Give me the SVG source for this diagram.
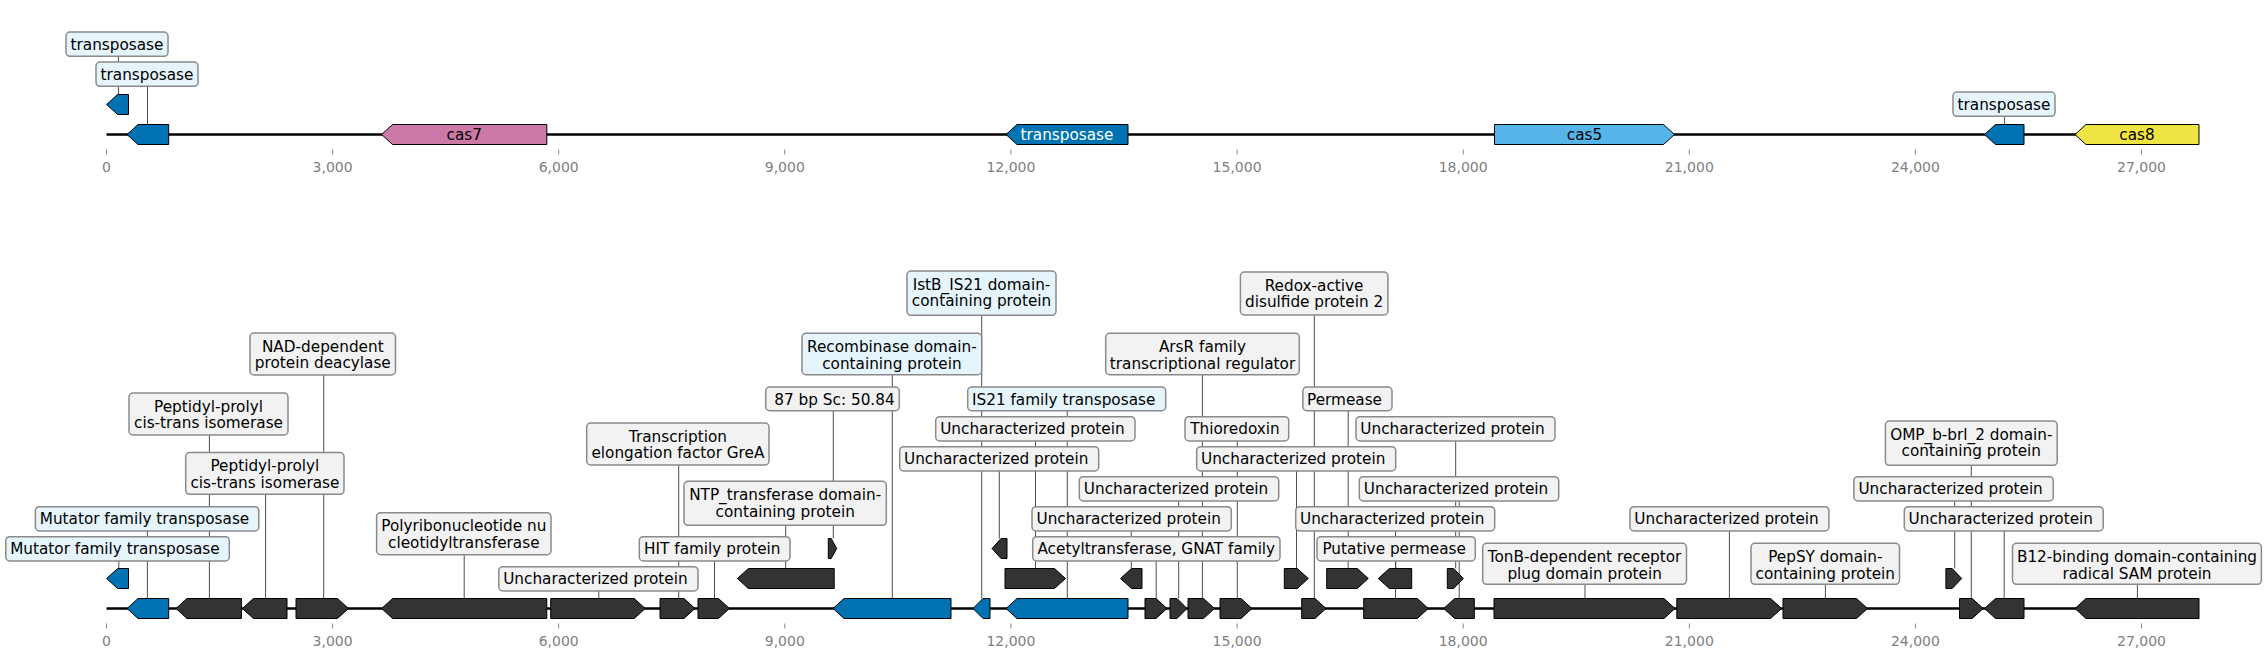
<svg xmlns="http://www.w3.org/2000/svg" width="2267" height="659" viewBox="0 0 2267 659">
<style>
.bg{fill:#ffffff}
.base{stroke:#000;stroke-width:2.5;fill:none}
.tick{stroke:#888;stroke-width:1}
.tl{font-family:"DejaVu Sans","Liberation Sans",sans-serif;font-size:14px;fill:#808080;text-anchor:middle}
.con{stroke:#4d4d4d;stroke-width:1;fill:none}
.g{stroke:#000;stroke-width:1}
.dk{fill:#333333}
.bl{fill:#0072b2}
.lb{fill:#56b4e9}
.pk{fill:#cc79a7}
.ye{fill:#f0e442}
.bx{fill:#f2f2f2;stroke:#8a8a8a;stroke-width:1.5}
.bxb{fill:#e6f5fc;stroke:#8a8a8a;stroke-width:1.5}
.t{font-family:"DejaVu Sans","Liberation Sans",sans-serif;font-size:15.28px;fill:#000;text-anchor:middle}
.tw{font-family:"DejaVu Sans","Liberation Sans",sans-serif;font-size:15.28px;fill:#fff;text-anchor:middle}
</style>
<rect class="bg" x="0" y="0" width="2267" height="659"/>

<g id="axes">
<line class="base" x1="106.5" y1="134.5" x2="2199" y2="134.5"/>
<line class="base" x1="106.5" y1="608.5" x2="2199" y2="608.5"/>
<g id="ticks-top">
<line class="tick" x1="106.5" y1="149.5" x2="106.5" y2="154.5"/>
<line class="tick" x1="332.6" y1="149.5" x2="332.6" y2="154.5"/>
<line class="tick" x1="558.7" y1="149.5" x2="558.7" y2="154.5"/>
<line class="tick" x1="784.8" y1="149.5" x2="784.8" y2="154.5"/>
<line class="tick" x1="1010.9" y1="149.5" x2="1010.9" y2="154.5"/>
<line class="tick" x1="1237.1" y1="149.5" x2="1237.1" y2="154.5"/>
<line class="tick" x1="1463.2" y1="149.5" x2="1463.2" y2="154.5"/>
<line class="tick" x1="1689.3" y1="149.5" x2="1689.3" y2="154.5"/>
<line class="tick" x1="1915.4" y1="149.5" x2="1915.4" y2="154.5"/>
<line class="tick" x1="2141.5" y1="149.5" x2="2141.5" y2="154.5"/>
<text class="tl" x="106.5" y="172">0</text>
<text class="tl" x="332.6" y="172">3,000</text>
<text class="tl" x="558.7" y="172">6,000</text>
<text class="tl" x="784.8" y="172">9,000</text>
<text class="tl" x="1010.9" y="172">12,000</text>
<text class="tl" x="1237.1" y="172">15,000</text>
<text class="tl" x="1463.2" y="172">18,000</text>
<text class="tl" x="1689.3" y="172">21,000</text>
<text class="tl" x="1915.4" y="172">24,000</text>
<text class="tl" x="2141.5" y="172">27,000</text>
</g>
<g id="ticks-bottom">
<line class="tick" x1="106.5" y1="623.5" x2="106.5" y2="628.5"/>
<line class="tick" x1="332.6" y1="623.5" x2="332.6" y2="628.5"/>
<line class="tick" x1="558.7" y1="623.5" x2="558.7" y2="628.5"/>
<line class="tick" x1="784.8" y1="623.5" x2="784.8" y2="628.5"/>
<line class="tick" x1="1010.9" y1="623.5" x2="1010.9" y2="628.5"/>
<line class="tick" x1="1237.1" y1="623.5" x2="1237.1" y2="628.5"/>
<line class="tick" x1="1463.2" y1="623.5" x2="1463.2" y2="628.5"/>
<line class="tick" x1="1689.3" y1="623.5" x2="1689.3" y2="628.5"/>
<line class="tick" x1="1915.4" y1="623.5" x2="1915.4" y2="628.5"/>
<line class="tick" x1="2141.5" y1="623.5" x2="2141.5" y2="628.5"/>
<text class="tl" x="106.5" y="646">0</text>
<text class="tl" x="332.6" y="646">3,000</text>
<text class="tl" x="558.7" y="646">6,000</text>
<text class="tl" x="784.8" y="646">9,000</text>
<text class="tl" x="1010.9" y="646">12,000</text>
<text class="tl" x="1237.1" y="646">15,000</text>
<text class="tl" x="1463.2" y="646">18,000</text>
<text class="tl" x="1689.3" y="646">21,000</text>
<text class="tl" x="1915.4" y="646">24,000</text>
<text class="tl" x="2141.5" y="646">27,000</text>
</g>
</g>

<g id="connectors">
<line class="con" x1="118.4" y1="56" x2="118.4" y2="94.5"/>
<line class="con" x1="147.5" y1="86" x2="147.5" y2="124.5"/>
<line class="con" x1="2004.6" y1="116" x2="2004.6" y2="124.5"/>
<line class="con" x1="118.8" y1="561" x2="118.8" y2="568.5"/>
<line class="con" x1="147.4" y1="531" x2="147.4" y2="598.5"/>
<line class="con" x1="209.4" y1="435" x2="209.4" y2="598.5"/>
<line class="con" x1="265.6" y1="494.3" x2="265.6" y2="598.5"/>
<line class="con" x1="323.7" y1="375" x2="323.7" y2="598.5"/>
<line class="con" x1="464.2" y1="554.7" x2="464.2" y2="598.5"/>
<line class="con" x1="598.8" y1="591" x2="598.8" y2="598.5"/>
<line class="con" x1="678.7" y1="465" x2="678.7" y2="598.5"/>
<line class="con" x1="714.5" y1="561" x2="714.5" y2="598.5"/>
<line class="con" x1="785.7" y1="525.3" x2="785.7" y2="568.5"/>
<line class="con" x1="833.3" y1="410.7" x2="833.3" y2="538.5"/>
<line class="con" x1="892.3" y1="374.7" x2="892.3" y2="598.5"/>
<line class="con" x1="981.7" y1="315.3" x2="981.7" y2="598.5"/>
<line class="con" x1="1067.3" y1="410.7" x2="1067.3" y2="598.5"/>
<line class="con" x1="1035.5" y1="441" x2="1035.5" y2="568.5"/>
<line class="con" x1="999.3" y1="471" x2="999.3" y2="538.5"/>
<line class="con" x1="1178.7" y1="501" x2="1178.7" y2="598.5"/>
<line class="con" x1="1131.3" y1="531" x2="1131.3" y2="568.5"/>
<line class="con" x1="1156.2" y1="561" x2="1156.2" y2="598.5"/>
<line class="con" x1="1202.4" y1="374.7" x2="1202.4" y2="598.5"/>
<line class="con" x1="1237.3" y1="441" x2="1237.3" y2="598.5"/>
<line class="con" x1="1296.5" y1="471" x2="1296.5" y2="568.5"/>
<line class="con" x1="1314.3" y1="315" x2="1314.3" y2="598.5"/>
<line class="con" x1="1348.2" y1="410.7" x2="1348.2" y2="568.5"/>
<line class="con" x1="1455.7" y1="441" x2="1455.7" y2="568.5"/>
<line class="con" x1="1459.2" y1="501" x2="1459.2" y2="598.5"/>
<line class="con" x1="1395.5" y1="531" x2="1395.5" y2="598.5"/>
<line class="con" x1="1395.8" y1="561" x2="1395.8" y2="568.5"/>
<line class="con" x1="1585" y1="584.3" x2="1585" y2="598.5"/>
<line class="con" x1="1729.4" y1="531" x2="1729.4" y2="598.5"/>
<line class="con" x1="1825.4" y1="584.3" x2="1825.4" y2="598.5"/>
<line class="con" x1="1971.3" y1="465.3" x2="1971.3" y2="598.5"/>
<line class="con" x1="1954.7" y1="501" x2="1954.7" y2="568.5"/>
<line class="con" x1="2004.2" y1="531" x2="2004.2" y2="598.5"/>
<line class="con" x1="2137.4" y1="584.3" x2="2137.4" y2="598.5"/>
</g>

<g id="genes-top">
<g id="gt1"><path class="g bl" d="M128.5,94.5 L117.6,94.5 L106.6,104.5 L117.6,114.5 L128.5,114.5 Z"/></g>
<g id="gt2"><path class="g bl" d="M168.7,124.5 L138,124.5 L127,134.5 L138,144.5 L168.7,144.5 Z"/></g>
<g id="gt-cas7"><path class="g pk" d="M546.8,124.5 L392.6,124.5 L381.6,134.5 L392.6,144.5 L546.8,144.5 Z"/><text class="t" x="464.2" y="140">cas7</text></g>
<g id="gt-transposase"><path class="g bl" d="M1128,124.5 L1017,124.5 L1006,134.5 L1017,144.5 L1128,144.5 Z"/><text class="tw" x="1067" y="140">transposase</text></g>
<g id="gt-cas5"><path class="g lb" d="M1494.5,124.5 L1663.5,124.5 L1674.5,134.5 L1663.5,144.5 L1494.5,144.5 Z"/><text class="t" x="1584.5" y="140">cas5</text></g>
<g id="gt6"><path class="g bl" d="M2024,124.5 L1995.5,124.5 L1984.5,134.5 L1995.5,144.5 L2024,144.5 Z"/></g>
<g id="gt-cas8"><path class="g ye" d="M2199,124.5 L2086,124.5 L2075,134.5 L2086,144.5 L2199,144.5 Z"/><text class="t" x="2137" y="140">cas8</text></g>
</g>

<g id="labels-top">
<g id="lt1"><rect class="bxb" x="66" y="32" width="102" height="24.3" rx="4"/><text class="t" x="117" y="49.6">transposase</text></g>
<g id="lt2"><rect class="bxb" x="96" y="62" width="102" height="24.3" rx="4"/><text class="t" x="147" y="79.6">transposase</text></g>
<g id="lt3"><rect class="bxb" x="1953" y="92" width="102" height="24.3" rx="4"/><text class="t" x="2004" y="109.6">transposase</text></g>
</g>

<g id="genes-bottom">
<g id="gb1"><path class="g bl" d="M128.5,568.5 L117.6,568.5 L106.6,578.5 L117.6,588.5 L128.5,588.5 Z"/></g>
<g id="gb2"><path class="g bl" d="M168.7,598.5 L138,598.5 L127,608.5 L138,618.5 L168.7,618.5 Z"/></g>
<g id="gb3"><path class="g dk" d="M241.4,598.5 L187,598.5 L176,608.5 L187,618.5 L241.4,618.5 Z"/></g>
<g id="gb4"><path class="g dk" d="M287,598.5 L253.4,598.5 L242.4,608.5 L253.4,618.5 L287,618.5 Z"/></g>
<g id="gb5"><path class="g dk" d="M296,598.5 L337.5,598.5 L348.5,608.5 L337.5,618.5 L296,618.5 Z"/></g>
<g id="gb6"><path class="g dk" d="M546.8,598.5 L392.6,598.5 L381.6,608.5 L392.6,618.5 L546.8,618.5 Z"/></g>
<g id="gb7"><path class="g dk" d="M550.7,598.5 L634.2,598.5 L645.2,608.5 L634.2,618.5 L550.7,618.5 Z"/></g>
<g id="gb8"><path class="g dk" d="M660,598.5 L684,598.5 L695,608.5 L684,618.5 L660,618.5 Z"/></g>
<g id="gb9"><path class="g dk" d="M698,598.5 L718.5,598.5 L729.5,608.5 L718.5,618.5 L698,618.5 Z"/></g>
<g id="gb10"><path class="g dk" d="M834.2,568.5 L748.4,568.5 L737.4,578.5 L748.4,588.5 L834.2,588.5 Z"/></g>
<g id="gb11"><path class="g dk" d="M828.3,538.5 L831.2,538.5 L836.7,548.5 L831.2,558.5 L828.3,558.5 Z"/></g>
<g id="gb12"><path class="g bl" d="M951,598.5 L844,598.5 L833,608.5 L844,618.5 L951,618.5 Z"/></g>
<g id="gb13"><path class="g bl" d="M990,598.5 L983,598.5 L973,608.5 L983,618.5 L990,618.5 Z"/></g>
<g id="gb14"><path class="g dk" d="M1007,538.5 L1001,538.5 L992,548.5 L1001,558.5 L1007,558.5 Z"/></g>
<g id="gb15"><path class="g bl" d="M1128,598.5 L1017,598.5 L1006,608.5 L1017,618.5 L1128,618.5 Z"/></g>
<g id="gb16"><path class="g dk" d="M1005,568.5 L1054.5,568.5 L1065.5,578.5 L1054.5,588.5 L1005,588.5 Z"/></g>
<g id="gb17"><path class="g dk" d="M1142,568.5 L1131.5,568.5 L1120.5,578.5 L1131.5,588.5 L1142,588.5 Z"/></g>
<g id="gb18"><path class="g dk" d="M1145,598.5 L1156,598.5 L1167,608.5 L1156,618.5 L1145,618.5 Z"/></g>
<g id="gb19"><path class="g dk" d="M1170,598.5 L1177,598.5 L1187,608.5 L1177,618.5 L1170,618.5 Z"/></g>
<g id="gb20"><path class="g dk" d="M1188,598.5 L1203.5,598.5 L1214.5,608.5 L1203.5,618.5 L1188,618.5 Z"/></g>
<g id="gb21"><path class="g dk" d="M1220,598.5 L1241,598.5 L1252,608.5 L1241,618.5 L1220,618.5 Z"/></g>
<g id="gb22"><path class="g dk" d="M1284.3,568.5 L1297.3,568.5 L1308.3,578.5 L1297.3,588.5 L1284.3,588.5 Z"/></g>
<g id="gb23"><path class="g dk" d="M1301.7,598.5 L1315,598.5 L1326,608.5 L1315,618.5 L1301.7,618.5 Z"/></g>
<g id="gb24"><path class="g dk" d="M1326.7,568.5 L1357.3,568.5 L1368.3,578.5 L1357.3,588.5 L1326.7,588.5 Z"/></g>
<g id="gb25"><path class="g dk" d="M1411.7,568.5 L1389.3,568.5 L1378.3,578.5 L1389.3,588.5 L1411.7,588.5 Z"/></g>
<g id="gb26"><path class="g dk" d="M1363.7,598.5 L1417.3,598.5 L1428.3,608.5 L1417.3,618.5 L1363.7,618.5 Z"/></g>
<g id="gb27"><path class="g dk" d="M1447.3,568.5 L1453.7,568.5 L1463.3,578.5 L1453.7,588.5 L1447.3,588.5 Z"/></g>
<g id="gb28"><path class="g dk" d="M1474.3,598.5 L1454.7,598.5 L1443.7,608.5 L1454.7,618.5 L1474.3,618.5 Z"/></g>
<g id="gb29"><path class="g dk" d="M1494,598.5 L1664,598.5 L1675,608.5 L1664,618.5 L1494,618.5 Z"/></g>
<g id="gb30"><path class="g dk" d="M1676.8,598.5 L1770.6,598.5 L1781.6,608.5 L1770.6,618.5 L1676.8,618.5 Z"/></g>
<g id="gb31"><path class="g dk" d="M1783,598.5 L1856.5,598.5 L1867.5,608.5 L1856.5,618.5 L1783,618.5 Z"/></g>
<g id="gb32"><path class="g dk" d="M1945.9,568.5 L1952.2,568.5 L1961.7,578.5 L1952.2,588.5 L1945.9,588.5 Z"/></g>
<g id="gb33"><path class="g dk" d="M1959.5,598.5 L1972.2,598.5 L1983.2,608.5 L1972.2,618.5 L1959.5,618.5 Z"/></g>
<g id="gb34"><path class="g dk" d="M2024,598.5 L1995.5,598.5 L1984.5,608.5 L1995.5,618.5 L2024,618.5 Z"/></g>
<g id="gb35"><path class="g dk" d="M2199,598.5 L2086,598.5 L2075,608.5 L2086,618.5 L2199,618.5 Z"/></g>
</g>

<g id="labels-bottom">
<g id="lb1"><rect class="bxb" x="5.8" y="536.7" width="223.5" height="24.3" rx="4"/><text class="t" x="114.9" y="554.3">Mutator family transposase</text></g>
<g id="lb2"><rect class="bxb" x="35.4" y="506.7" width="223.4" height="24.3" rx="4"/><text class="t" x="144.5" y="524.3">Mutator family transposase</text></g>
<g id="lb3"><rect class="bx" x="129" y="393" width="159" height="42" rx="4"/><text class="t" x="208.5" y="411.5">Peptidyl-prolyl</text><text class="t" x="208.5" y="428.2">cis-trans isomerase</text></g>
<g id="lb4"><rect class="bx" x="185.7" y="452.6" width="158.3" height="41.7" rx="4"/><text class="t" x="264.9" y="471.1">Peptidyl-prolyl</text><text class="t" x="264.9" y="487.8">cis-trans isomerase</text></g>
<g id="lb5"><rect class="bx" x="250" y="333" width="145.5" height="42" rx="4"/><text class="t" x="322.8" y="351.5">NAD-dependent</text><text class="t" x="322.8" y="368.2">protein deacylase</text></g>
<g id="lb6"><rect class="bx" x="376.6" y="512.7" width="174.4" height="42" rx="4"/><text class="t" x="463.8" y="531.2">Polyribonucleotide nu</text><text class="t" x="463.8" y="547.9">cleotidyltransferase</text></g>
<g id="lb7"><rect class="bx" x="498.8" y="566.7" width="199.2" height="24.3" rx="4"/><text class="t" x="595.4" y="584.3">Uncharacterized protein</text></g>
<g id="lb8"><rect class="bx" x="586.7" y="423" width="182.3" height="42" rx="4"/><text class="t" x="677.9" y="441.5">Transcription</text><text class="t" x="677.9" y="458.2">elongation factor GreA</text></g>
<g id="lb9"><rect class="bx" x="639.3" y="536.7" width="150.7" height="24.3" rx="4"/><text class="t" x="712.3" y="554.3">HIT family protein</text></g>
<g id="lb10"><rect class="bx" x="684" y="481.3" width="202.3" height="44" rx="4"/><text class="t" x="785.2" y="499.8">NTP_transferase domain-</text><text class="t" x="785.2" y="516.5">containing protein</text></g>
<g id="lb11"><rect class="bx" x="765.7" y="387" width="133.6" height="23.7" rx="4"/><text class="t" x="834.5" y="404.6">87 bp Sc: 50.84</text></g>
<g id="lb12"><rect class="bxb" x="802" y="333.3" width="179.7" height="41.4" rx="4"/><text class="t" x="891.9" y="351.8">Recombinase domain-</text><text class="t" x="891.9" y="368.5">containing protein</text></g>
<g id="lb13"><rect class="bxb" x="907" y="271" width="149" height="44.3" rx="4"/><text class="t" x="981.5" y="289.5">IstB_IS21 domain-</text><text class="t" x="981.5" y="306.2">containing protein</text></g>
<g id="lb14"><rect class="bxb" x="967.7" y="387" width="198" height="23.7" rx="4"/><text class="t" x="1063.7" y="404.6">IS21 family transposase</text></g>
<g id="lb15"><rect class="bx" x="935.7" y="416.7" width="199.3" height="24.3" rx="4"/><text class="t" x="1032.4" y="434.3">Uncharacterized protein</text></g>
<g id="lb16"><rect class="bx" x="899.7" y="446.7" width="199" height="24.3" rx="4"/><text class="t" x="996.2" y="464.3">Uncharacterized protein</text></g>
<g id="lb17"><rect class="bx" x="1079.3" y="476.7" width="199.4" height="24.3" rx="4"/><text class="t" x="1176" y="494.3">Uncharacterized protein</text></g>
<g id="lb18"><rect class="bx" x="1032" y="506.7" width="199.3" height="24.3" rx="4"/><text class="t" x="1128.7" y="524.3">Uncharacterized protein</text></g>
<g id="lb19"><rect class="bx" x="1032.7" y="536.7" width="247.3" height="24.3" rx="4"/><text class="t" x="1156.3" y="554.3">Acetyltransferase, GNAT family</text></g>
<g id="lb20"><rect class="bx" x="1105.7" y="333.3" width="193.6" height="41.4" rx="4"/><text class="t" x="1202.5" y="351.8">ArsR family</text><text class="t" x="1202.5" y="368.5">transcriptional regulator</text></g>
<g id="lb21"><rect class="bx" x="1185" y="416.7" width="103.7" height="24.3" rx="4"/><text class="t" x="1235" y="434.3">Thioredoxin</text></g>
<g id="lb22"><rect class="bx" x="1196.7" y="446.7" width="199" height="24.3" rx="4"/><text class="t" x="1293.2" y="464.3">Uncharacterized protein</text></g>
<g id="lb23"><rect class="bx" x="1240.4" y="272" width="147.5" height="43" rx="4"/><text class="t" x="1314.1" y="290.5">Redox-active</text><text class="t" x="1314.1" y="307.2">disulfide protein 2</text></g>
<g id="lb24"><rect class="bx" x="1302.9" y="387" width="89.1" height="23.7" rx="4"/><text class="t" x="1344.5" y="404.6">Permease</text></g>
<g id="lb25"><rect class="bx" x="1356" y="416.7" width="199" height="24.3" rx="4"/><text class="t" x="1452.5" y="434.3">Uncharacterized protein</text></g>
<g id="lb26"><rect class="bx" x="1359.3" y="476.7" width="199.4" height="24.3" rx="4"/><text class="t" x="1456" y="494.3">Uncharacterized protein</text></g>
<g id="lb27"><rect class="bx" x="1295.7" y="506.7" width="199" height="24.3" rx="4"/><text class="t" x="1392.2" y="524.3">Uncharacterized protein</text></g>
<g id="lb28"><rect class="bx" x="1317" y="536.7" width="158.3" height="24.3" rx="4"/><text class="t" x="1394.2" y="554.3">Putative permease</text></g>
<g id="lb29"><rect class="bx" x="1482.7" y="543.3" width="203.8" height="41" rx="4"/><text class="t" x="1584.6" y="561.8">TonB-dependent receptor</text><text class="t" x="1584.6" y="578.5">plug domain protein</text></g>
<g id="lb30"><rect class="bx" x="1630" y="506.7" width="198.9" height="24.3" rx="4"/><text class="t" x="1726.5" y="524.3">Uncharacterized protein</text></g>
<g id="lb31"><rect class="bx" x="1751" y="543.3" width="148.5" height="41" rx="4"/><text class="t" x="1825.3" y="561.8">PepSY domain-</text><text class="t" x="1825.3" y="578.5">containing protein</text></g>
<g id="lb32"><rect class="bx" x="1885.4" y="421" width="171.8" height="44.3" rx="4"/><text class="t" x="1971.3" y="439.5">OMP_b-brl_2 domain-</text><text class="t" x="1971.3" y="456.2">containing protein</text></g>
<g id="lb33"><rect class="bx" x="1853.9" y="476.7" width="199.4" height="24.3" rx="4"/><text class="t" x="1950.6" y="494.3">Uncharacterized protein</text></g>
<g id="lb34"><rect class="bx" x="1904.3" y="506.7" width="198.9" height="24.3" rx="4"/><text class="t" x="2000.8" y="524.3">Uncharacterized protein</text></g>
<g id="lb35"><rect class="bx" x="2012.5" y="543.3" width="248.9" height="41" rx="4"/><text class="t" x="2137" y="561.8">B12-binding domain-containing</text><text class="t" x="2137" y="578.5">radical SAM protein</text></g>
</g>
</svg>
